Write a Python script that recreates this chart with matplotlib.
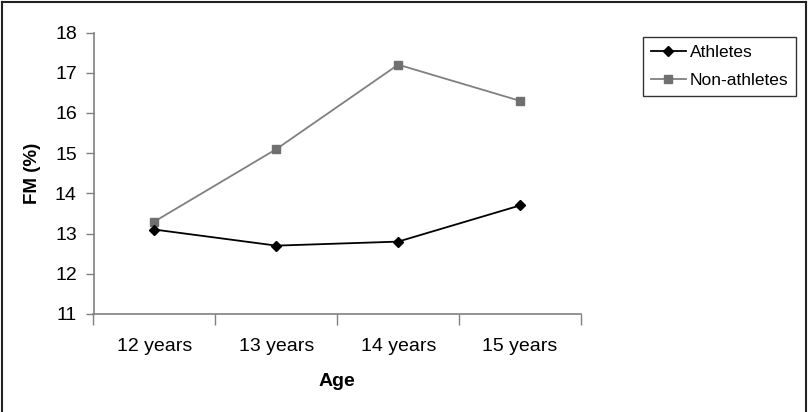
import matplotlib
matplotlib.use("Agg")
import matplotlib.pyplot as plt
from matplotlib.lines import Line2D

plt.rcParams['font.family'] = ['Liberation Sans', 'DejaVu Sans']

categories = ["12 years", "13 years", "14 years", "15 years"]
athletes = [13.1, 12.7, 12.8, 13.7]
non_athletes = [13.3, 15.1, 17.2, 16.3]
y_ticks = [11, 12, 13, 14, 15, 16, 17, 18]

fig = plt.figure(figsize=(8.08, 4.12), dpi=100)
ax = fig.add_axes([93.5/808, 1 - 314/412, (581 - 93.5)/808, (314 - 32.5)/412])

x = list(range(len(categories)))
ax.plot(x, non_athletes, color='#808080', lw=1.3, marker='s', ms=5.8,
        mfc='#707070', mec='#707070', label='Non-athletes')
ax.plot(x, athletes, color='black', lw=1.3, marker='D', ms=5.5,
        mfc='black', mec='black', label='Athletes')

ax.set_xlim(-0.5, len(categories) - 0.5)
ax.set_ylim(11, 18)
ax.set_yticks(y_ticks)
ax.set_yticklabels([str(v) for v in y_ticks], fontsize=14)
ax.set_xticks(x)
ax.set_xticklabels(categories, fontsize=14)
ax.tick_params(axis='x', which='major', length=0, pad=17)
ax.set_xticks([i - 0.5 for i in range(len(categories) + 1)], minor=True)
ax.tick_params(axis='x', which='minor', length=8, width=1, color='#808080', direction='out')
ax.tick_params(axis='y', length=6, width=1, color='#808080', direction='out', pad=6)

for s in ['top', 'right']:
    ax.spines[s].set_visible(False)
for s in ['left', 'bottom']:
    ax.spines[s].set_color('#808080')
    ax.spines[s].set_linewidth(1.2)

ax.set_ylabel('FM (%)', fontsize=13.5, fontweight='bold', labelpad=10)
ax.set_xlabel('Age', fontsize=14, fontweight='bold', labelpad=13)

handles = [Line2D([0], [0], color='black', lw=1.3, marker='D', ms=5.5),
           Line2D([0], [0], color='#808080', lw=1.3, marker='s', ms=5.8,
                  mfc='#707070', mec='#707070')]
leg = fig.legend(handles, ['Athletes', 'Non-athletes'], loc='upper left',
                 bbox_to_anchor=(643/808, 1 - 37/412), fontsize=12.5,
                 frameon=True, fancybox=False, borderpad=0.45,
                 handlelength=2.0, handletextpad=0.25, labelspacing=0.75,
                 borderaxespad=0)
leg.get_frame().set_edgecolor('black')
leg.get_frame().set_linewidth(1.0)

# outer frame
fig.add_artist(Line2D([1.5/808, 1.5/808], [0, 1 - 2/412], color='#222222', lw=1.5, transform=fig.transFigure))
fig.add_artist(Line2D([1.5/808, 805.5/808], [1 - 2/412, 1 - 2/412], color='#222222', lw=1.5, transform=fig.transFigure))
fig.add_artist(Line2D([805.5/808, 805.5/808], [0, 1 - 2/412], color='#222222', lw=1.5, transform=fig.transFigure))

fig.savefig('out.png', dpi=100)
